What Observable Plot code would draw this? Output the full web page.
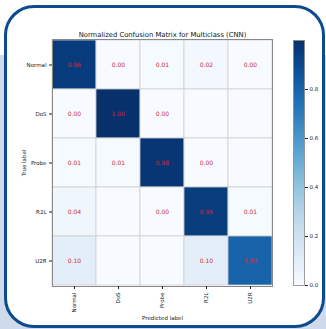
<!DOCTYPE html>
<html><head><meta charset="utf-8">
<script src="https://cdn.jsdelivr.net/npm/d3@7"></script>
<script src="https://cdn.jsdelivr.net/npm/@observablehq/plot@0.6"></script>
<style>
html,body{margin:0;padding:0;}
body{width:326px;height:329px;overflow:hidden;background:#cfdaea;font-family:"DejaVu Sans",sans-serif;}
#wrap{position:relative;width:326px;height:329px;}
#topwhite{position:absolute;left:0;top:0;width:326px;height:55px;background:#fff;}
#frame{position:absolute;left:4px;top:5px;width:315px;height:317px;border:3px solid #0d4a8e;border-radius:30px;background:#fff;}
.layer{position:absolute;left:0;top:0;}
svg{background:transparent !important;overflow:visible;}
</style></head>
<body><div id="wrap"><div id="topwhite"></div><div id="frame"></div></div>
<script>
const classes = ["Normal","DoS","Probe","R2L","U2R"];
const rowNormal = [0.96, 0.00, 0.01, 0.02, 0.00];
const rowDoS    = [0.00, 1.00, 0.00, null, null];
const rowProbe  = [0.01, 0.01, 0.98, 0.00, null];
const rowR2L    = [0.04, null, 0.00, 0.95, 0.01];
const rowU2R    = [0.10, null, null, 0.10, 0.80];
const colorTicks = [0, 0.2, 0.4, 0.6, 0.8];
const title = "Normalized Confusion Matrix for Multiclass (CNN)";

const rows = [rowNormal, rowDoS, rowProbe, rowR2L, rowU2R];
const data = [];
rows.forEach((r, i) => r.forEach((v, j) => data.push({t: classes[i], p: classes[j], v})));

const colorOpt = {type: "linear", scheme: "blues", domain: [0, 1]};
const font = "DejaVu Sans";

const main = Plot.plot({
  width: 326, height: 329,
  marginLeft: 52, marginRight: 54, marginTop: 39, marginBottom: 43,
  style: {fontFamily: font, fontSize: "5.5px", color: "#222", background: "transparent"},
  x: {domain: classes, label: "Predicted label", padding: 0},
  y: {domain: classes, label: "True label", padding: 0},
  color: colorOpt,
  marks: [
    Plot.cell(data, {x: "p", y: "t", fill: d => d.v ?? 0, stroke: "#cfcfcf", strokeWidth: 0.8}),
    Plot.text(data.filter(d => d.v !== null), {x: "p", y: "t", text: d => d.v.toFixed(2), fill: "#c9303a", fontSize: 6}),
    Plot.frame({stroke: "#888", strokeWidth: 1}),
    Plot.axisX({tickRotate: -90, tickSize: 3, tickPadding: 3, fontSize: 5.5, label: "Predicted label", labelAnchor: "center", labelArrow: "none", labelOffset: 33}),
    Plot.axisY({tickSize: 3, tickPadding: 3, fontSize: 5.5, label: "True label", labelAnchor: "center", labelArrow: "none", labelOffset: 30}),
    Plot.text([title], {frameAnchor: "top", dy: -7, fontSize: 6.8, fill: "#111"})
  ]
});
main.classList.add("layer");
document.getElementById("wrap").appendChild(main);

const bar = Plot.plot({
  width: 326, height: 329,
  marginLeft: 293, marginRight: 22, marginTop: 40, marginBottom: 44,
  style: {fontFamily: font, fontSize: "5.5px", color: "#222", background: "transparent"},
  x: {domain: [0, 1], axis: null},
  y: {domain: [0, 1], ticks: colorTicks, tickFormat: d3.format(".1f")},
  color: colorOpt,
  marks: [
    Plot.raster({fill: (x, y) => y, x1: 0, x2: 1, y1: 0, y2: 1, pixelSize: 1, interpolate: null}),
    Plot.frame({stroke: "#888", strokeWidth: 0.8}),
    Plot.axisY(colorTicks, {anchor: "right", tickSize: 3, tickPadding: 2, fontSize: 5.5, label: null, tickFormat: d3.format(".1f")})
  ]
});
bar.classList.add("layer");
document.getElementById("wrap").appendChild(bar);
</script></body></html>
